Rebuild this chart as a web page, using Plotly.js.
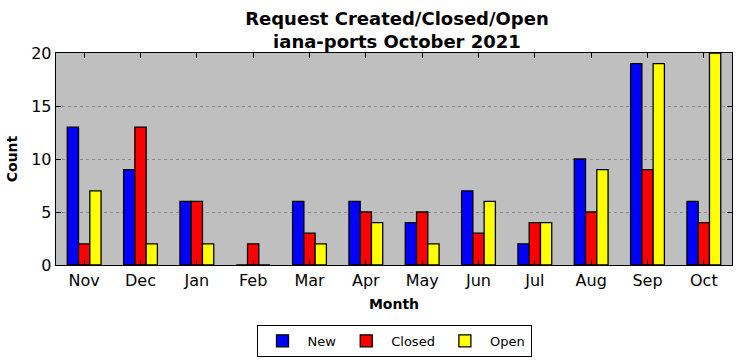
<!DOCTYPE html>
<html>
<head>
<meta charset="utf-8">
<script src="https://cdn.plot.ly/plotly-3.0.1.min.js"></script>
<style>html,body{margin:0;padding:0;background:#fff}</style>
</head>
<body>
<div id="chart" style="width:742px;height:361px"></div>
<script>
const months = ["Nov","Dec","Jan","Feb","Mar","Apr","May","Jun","Jul","Aug","Sep","Oct"];
const newVals = [13, 9, 6, 0, 6, 6, 4, 7, 2, 10, 19, 6];
const closedVals = [2, 13, 6, 2, 3, 5, 5, 3, 4, 5, 9, 4];
const openVals = [7, 2, 2, 0, 2, 4, 2, 6, 4, 9, 19, 20];

const mk = (name, y, color) => ({
  type: "bar", name: name, x: months, y: y,
  marker: {color: color, line: {color: "#000", width: 1.3}}
});
const data = [mk("New", newVals, "#0000ff"), mk("Closed", closedVals, "#ff0000"), mk("Open", openVals, "#ffff00")];

const layout = {
  width: 742, height: 361,
  margin: {l: 56, r: 10, t: 53, b: 96},
  paper_bgcolor: "#fff", plot_bgcolor: "#bfbfbf",
  font: {family: "DejaVu Sans", color: "#000"},
  barmode: "group", bargap: 0.4, bargroupgap: 0,
  title: {text: "<b>Request Created/Closed/Open<br>iana-ports October 2021</b>", x: 0.535, xanchor: "center", yref: "container", y: 0.932, yanchor: "middle", font: {family: "DejaVu Sans", size: 18, color: "#000"}},
  xaxis: {
    automargin: false,
    range: [-0.5, 11.5], showline: true, linecolor: "#000", linewidth: 1.3, mirror: "ticks",
    ticks: "inside", ticklen: 5, tickcolor: "#000", showgrid: false,
    tickfont: {family: "DejaVu Sans", size: 16, color: "#000"},
    title: {text: "<b>Month</b>", font: {family: "DejaVu Sans", size: 14, color: "#000"}, standoff: 10}
  },
  yaxis: {
    automargin: false,
    range: [0, 20], tickvals: [0, 5, 10, 15, 20], showline: true, linecolor: "#000", linewidth: 1.3, mirror: "ticks",
    ticks: "inside", ticklen: 5, tickcolor: "#000",
    showgrid: true, gridcolor: "#8a8a8a", griddash: "dot", gridwidth: 1, zeroline: false,
    tickfont: {family: "DejaVu Sans", size: 16, color: "#000"},
    title: {text: "<b>Count</b>", font: {family: "DejaVu Sans", size: 14, color: "#000"}, standoff: 10}
  },
  legend: {
    orientation: "h", xref: "paper", x: 0.5, xanchor: "center", yref: "container", y: 0.1, yanchor: "top",
    bordercolor: "#000", borderwidth: 1, bgcolor: "#fff",
    font: {family: "DejaVu Sans", size: 13, color: "#000"}, itemwidth: 40
  },
  showlegend: true
};
Plotly.newPlot("chart", data, layout, {displayModeBar: false, staticPlot: true});
</script>
</body>
</html>
